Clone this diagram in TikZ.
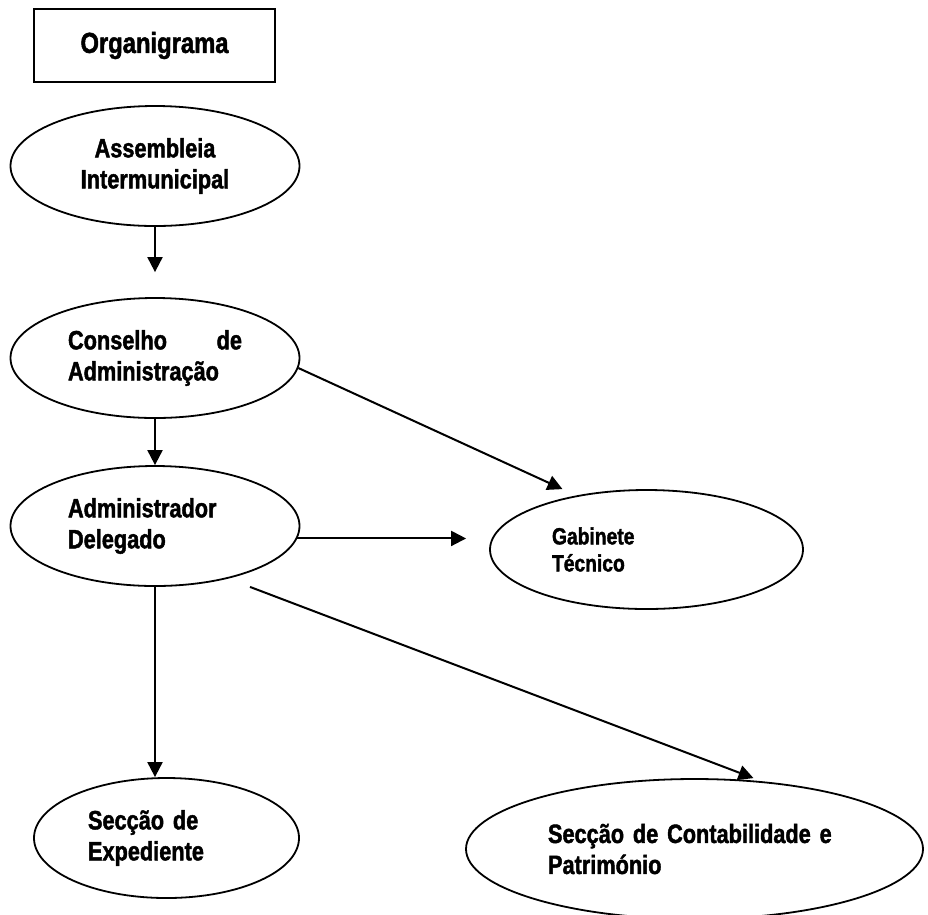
\documentclass[tikz,border=0pt]{standalone}
\usepackage{fontspec}
\setmainfont{Liberation Sans}[FakeStretch=0.82, BoldFeatures={FakeBold=1.6}]
\usetikzlibrary{shapes.geometric,arrows.meta}
\tikzset{
    every picture/.style={
        line width=2pt
    },
    % Style for the title frame
    title box/.style={
        draw,
        inner sep=0pt,
        font=\fontsize{29}{34}\selectfont\bfseries
    },
    % Style for the ellipses of the chart
    unit box/.style={
        draw,
        ellipse,
        inner sep=0pt,
        line width=1.8pt,
        font=\fontsize{26.5}{31}\selectfont\bfseries
    },
    link/.style={-{Triangle[length=15pt,width=15pt]}}
}

\begin{document}
\begin{tikzpicture}[x=1pt,y=-1pt]

% Set the canvas size
\path[use as bounding box] (0,0) rectangle (928,914);

% Title
\node[title box, minimum width=241pt, minimum height=73pt] (title) at (154.5,45.5)
    {\raisebox{6pt}{Organigrama}};

% Ellipses of the chart
\node[unit box, minimum width=289pt, minimum height=120pt, align=center] (ass) at (155,166)
    {Assembleia\\Intermunicipal};

\node[unit box, minimum width=289pt, minimum height=120pt, text width=174pt, align=left] (cons) at (155,358)
    {Conselho\hfill de\\Administração};

\node[unit box, minimum width=289pt, minimum height=120pt, text width=174pt, align=left] (adm) at (155,526)
    {Administrador\\Delegado};

\node[unit box, minimum width=313pt, minimum height=119pt, text width=189pt, align=left,
    font=\fontsize{23.5}{27}\selectfont\bfseries] (gab) at (646.5,549.5)
    {Gabinete\\Técnico};

\node[unit box, minimum width=265pt, minimum height=120pt, text width=157pt, align=left] (exp) at (166.5,838)
    {Secção de\\Expediente};

\node[unit box, minimum width=457pt, minimum height=140pt, text width=293pt, align=left] (cont) at (694.5,849)
    {Secção de Contabilidade e\\Património};

% Connectors
\draw[link, shorten >=25pt] (ass.south) -- (cons.north);
\draw[link] (cons.south) -- (adm.north);
\draw[link] (cons.-4) -- ([xshift=-84pt]gab.north);
\draw[link, shorten >=23pt] (adm.-5) -- (adm.-5 -| gab.west);
\draw[link] (adm.south) -- (adm.south |- exp.north);
\draw[link] ([xshift=95pt]adm.south) -- ([xshift=59pt]cont.north);

\end{tikzpicture}
\end{document}
